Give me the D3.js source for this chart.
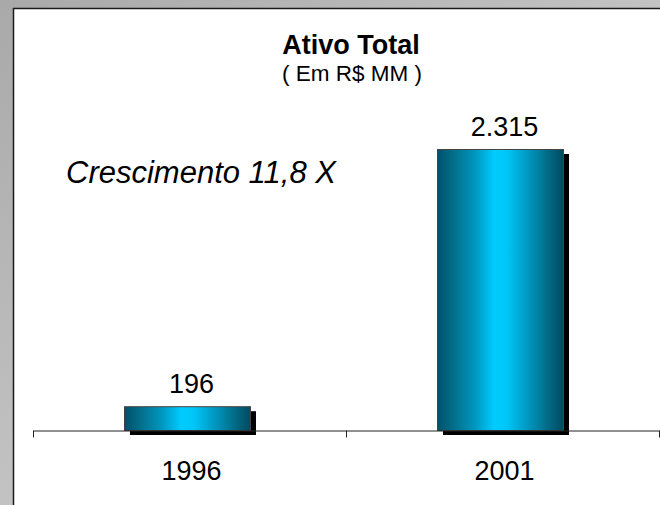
<!DOCTYPE html>
<html>
<head>
<meta charset="utf-8">
<script src="https://cdn.jsdelivr.net/npm/d3@7"></script>
<style>
html,body{margin:0;padding:0;background:#fff;}
svg{display:block;}
text{font-family:"Liberation Sans",Arial,sans-serif;}
</style>
</head>
<body>
<script>
const categories = ["1996", "2001"];
const values = [196, 2315];
const valueLabels = ["196", "2.315"];
const title = "Ativo Total";
const subtitle = "( Em R$ MM )";
const note = "Crescimento 11,8 X";

const W = 660, H = 505;
const svg = d3.select("body").append("svg").attr("width", W).attr("height", H);
const defs = svg.append("defs");

const bg = defs.append("linearGradient").attr("id","bg").attr("x1","0").attr("y1","0").attr("x2","1").attr("y2","1");
bg.append("stop").attr("offset","0%").attr("stop-color","#a9a9a9");
bg.append("stop").attr("offset","100%").attr("stop-color","#dcdcdc");

const bar = defs.append("linearGradient").attr("id","bar").attr("x1","0").attr("y1","0").attr("x2","1").attr("y2","0");
[["0%","#00516a"],["12%","#036d88"],["30%","#0097c0"],["45%","#00ccff"],["55%","#00c6f7"],["72%","#0097c0"],["88%","#036a85"],["100%","#004a60"]]
  .forEach(([o,c]) => bar.append("stop").attr("offset",o).attr("stop-color",c));

svg.append("rect").attr("width",W).attr("height",H).attr("fill","url(#bg)");
svg.append("rect").attr("x",13).attr("y",8).attr("width",W-13).attr("height",H-8).attr("fill","#fff");
svg.append("line").attr("x1",13.5).attr("y1",8).attr("x2",13.5).attr("y2",H).attr("stroke","#1a1a1a").attr("stroke-width",1.5);
svg.append("line").attr("x1",13).attr("y1",8.5).attr("x2",W).attr("y2",8.5).attr("stroke","#1a1a1a").attr("stroke-width",1.5);

const x0 = 33, x1 = 659, yBase = 430;
const x = d3.scaleBand().domain(categories).range([x0, x1]).paddingInner(0).paddingOuter(0);
const y = d3.scaleLinear().domain([0, 2315]).range([yBase, 149]);

const bw = 126;
const shx = 6, shy = 5;
const g = svg.append("g");
categories.forEach((c, i) => {
  const cx = x(c) + x.bandwidth()/2;
  const left = Math.round(cx - (bw + shx)/2);
  const top = y(values[i]);
  g.append("rect").attr("x", left + shx).attr("y", top + shy).attr("width", bw).attr("height", yBase - top).attr("fill","#000");
  g.append("rect").attr("x", left + 0.5).attr("y", top + 0.5).attr("width", bw).attr("height", yBase - top)
    .attr("fill","url(#bar)").attr("stroke","#444").attr("stroke-width",1);
  svg.append("text").attr("x", cx + 2).attr("y", top - 13).attr("text-anchor","middle")
    .attr("font-size", 27).attr("fill","#000").text(valueLabels[i]);
});

const axis = d3.axisBottom(x).tickSize(0).tickFormat("").tickSizeOuter(0);
const ag = svg.append("g").attr("transform", `translate(0,${yBase + 0.5})`).call(axis);
ag.select(".domain").attr("stroke","#222");
ag.selectAll(".tick").remove();
[x0, x(categories[1]), x1].forEach(t => {
  ag.append("line").attr("x1", Math.round(t)+0.5).attr("x2", Math.round(t)+0.5).attr("y1",0).attr("y2",7).attr("stroke","#222");
});
categories.forEach(c => {
  svg.append("text").attr("x", x(c) + x.bandwidth()/2 + 2).attr("y", 480).attr("text-anchor","middle")
    .attr("font-size", 27).attr("fill","#000").text(c);
});

svg.append("text").attr("x", 351).attr("y", 54).attr("text-anchor","middle").attr("font-size",27).attr("font-weight","bold").text(title);
svg.append("text").attr("x", 352).attr("y", 81).attr("text-anchor","middle").attr("font-size",22.5).text(subtitle);
svg.append("text").attr("x", 66).attr("y", 183).attr("font-size",31).attr("font-style","italic").text(note);
</script>
</body>
</html>
